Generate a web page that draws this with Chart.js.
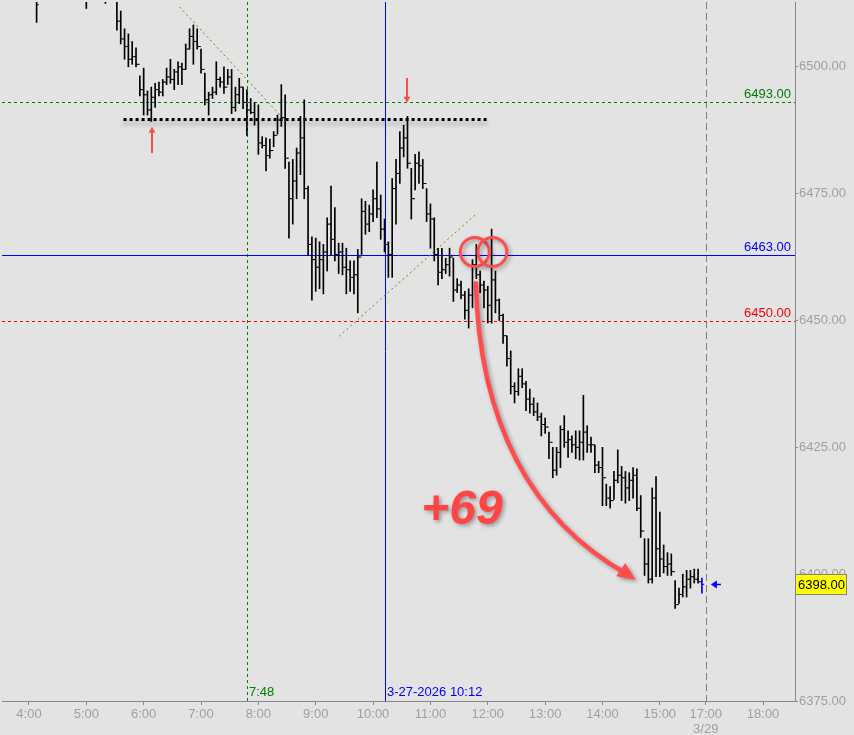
<!DOCTYPE html>
<html>
<head>
<meta charset="utf-8">
<script src="https://cdn.jsdelivr.net/npm/chart.js@4.4.1/dist/chart.umd.min.js"></script>
<style>
html, body { margin: 0; padding: 0; background: #e3e3e3; overflow: hidden; }
#wrap { position: relative; width: 854px; height: 735px; }
</style>
</head>
<body>
<div id="wrap"><canvas id="myChart"></canvas></div>
<script>
// 4 minute bars, session clock in minutes from midnight (4:00 = 240)
const sessionStart = 240;
const barMinutes = 4;

// null = bar sits above the visible price range
const highs = [
  null, null, 6516, null, null, null, null, null, null, null,
  null, null, null, null, null, 6516, null, null, null, null,
  6516, null, null, 6516, 6511, 6507.5, 6506.5, 6505, 6503.75, 6498.25,
  6499.75, 6495.25, 6496, 6496.75, 6497, 6497.5, 6499.75, 6501.5, 6499.5, 6501,
  6500.75, 6504.5, 6507.5, 6508.25, 6507.5, 6503.5, 6498.75, 6495, 6496, 6501,
  6498, 6500, 6499.5, 6499.5, 6496, 6497.75, 6496, 6495.5, 6493.75, 6493,
  6492.5, 6486.25, 6486, 6485.75, 6487.25, 6490.5, 6496.5, 6494.5, 6481.25, 6481.75,
  6484, 6490.25, 6493.5, 6476.5, 6466.5, 6466.25, 6465.5, 6465, 6470.25, 6476.5,
  6472.25, 6465.25, 6465.25, 6464.25, 6461.75, 6461.75, 6464, 6474, 6473.5, 6472.75,
  6475.75, 6481.25, 6474.75, 6470, 6465.5, 6478, 6481.75, 6487.25, 6488.5, 6490.25,
  6480, 6482.75, 6483.25, 6481.75, 6476, 6473, 6470.25, 6464.25, 6464.25, 6462.25,
  6464.25, 6462.25, 6458.25, 6457.75, 6455.75, 6456.25, 6462, 6465, 6459.75, 6457.75,
  6456.75, 6468, 6459.75, 6454.25, 6451.25, 6447, 6444, 6437.75, 6440.5, 6440.5,
  6438, 6436.5, 6434.75, 6433.75, 6431.75, 6430.75, 6428, 6425, 6425, 6429.25,
  6431.25, 6428.25, 6427.25, 6428.25, 6428.25, 6435.25, 6429.25, 6427, 6425.5, 6422.25,
  6425, 6417.75, 6417.25, 6420.25, 6424.5, 6421.25, 6420.25, 6420, 6421, 6420.75,
  6415.5, 6407, 6407, 6417, 6419.25, 6412.25, 6405.75, 6404.25, 6404, 6398.75,
  6397.25, 6400, 6400.75, 6400.75, 6401, 6401, 6399.25
];
const lows = [
  null, null, 6508.75, null, null, null, null, null, null, null,
  null, null, null, null, null, 6511.5, null, null, null, null,
  6512.5, null, null, 6507.25, 6504.5, 6501.5, 6500, 6500.5, 6500, 6494.25,
  6490.5, 6490.5, 6489.25, 6492, 6494.25, 6494.25, 6496.5, 6496.75, 6495.5, 6496.5,
  6496.5, 6499.5, 6503.5, 6500.5, 6503.5, 6498.75, 6492.5, 6490.5, 6493.75, 6494.5,
  6496, 6494.75, 6496.5, 6490.75, 6491.25, 6492.75, 6491.75, 6486.5, 6490.75, 6488.5,
  6482.75, 6484, 6479.5, 6482, 6484.25, 6486.75, 6488.25, 6480, 6466.25, 6469,
  6474, 6478.75, 6474, 6463, 6454, 6455.75, 6456.25, 6455.25, 6459.75, 6463,
  6461.75, 6459.25, 6459, 6455.25, 6455.75, 6455.25, 6451.5, 6463, 6467, 6467.5,
  6469.5, 6470.25, 6466, 6463.5, 6458.5, 6458.5, 6469, 6477, 6482.25, 6480,
  6470, 6475.75, 6477, 6476, 6469.5, 6464.25, 6461.75, 6457, 6458.25, 6459.25,
  6458.75, 6453.75, 6455.5, 6454.25, 6450.25, 6448.5, 6452.5, 6458.25, 6455.5, 6452.5,
  6449.5, 6449.5, 6451.5, 6450, 6445.5, 6441, 6435.5, 6433.75, 6435.25, 6436.75,
  6432.25, 6431.75, 6431.25, 6430.25, 6427.25, 6427.75, 6422.75, 6419, 6419.5, 6421,
  6425, 6423, 6424, 6422.75, 6422.5, 6422.5, 6424, 6424, 6420, 6420,
  6413.5, 6413.5, 6413, 6414.75, 6418, 6414.5, 6414, 6414.5, 6415, 6412.5,
  6407.25, 6399.75, 6398.25, 6398.25, 6399.5, 6399.5, 6400.25, 6399.75, 6399.75, 6393.25,
  6394.25, 6395.5, 6395.5, 6397.25, 6398.25, 6398.25, 6396.25
];
const closes = [
  null, null, 6512.25, null, null, null, null, null, null, null,
  null, null, null, null, null, 6513, null, null, null, null,
  6514, null, null, 6509, 6505.5, 6504, 6501.5, 6502, 6500.5, 6495.5,
  6494.5, 6491.5, 6494, 6495.5, 6495, 6497, 6498, 6497.5, 6499, 6500,
  6499.5, 6503.5, 6506, 6505, 6504, 6499.5, 6493.5, 6494.5, 6495, 6497.5,
  6497, 6496, 6498, 6492, 6494.5, 6496, 6493, 6491.5, 6491, 6489.5,
  6485, 6484.5, 6482.5, 6483.5, 6486.5, 6489.5, 6490, 6482, 6474, 6477.5,
  6483, 6486, 6476, 6465, 6462, 6460.5, 6462, 6463.5, 6469, 6466,
  6463, 6463.5, 6460.5, 6460, 6458.5, 6459, 6462.5, 6471.5, 6469, 6471,
  6474, 6472, 6468, 6465, 6463, 6476, 6479, 6484, 6486, 6481,
  6474, 6481, 6480.5, 6477, 6471, 6470, 6463, 6459.5, 6460, 6461,
  6462.5, 6456, 6457, 6455, 6452, 6455, 6461, 6459, 6457, 6456,
  6453, 6458, 6454, 6451, 6447, 6442.5, 6437, 6436, 6439, 6437.5,
  6434.5, 6433.5, 6432, 6431, 6429.5, 6429, 6426, 6420.5, 6424, 6428.5,
  6426, 6426.5, 6425.5, 6425, 6426, 6428, 6425.5, 6425.5, 6421.5, 6421,
  6419, 6415, 6414.5, 6418.5, 6419.5, 6419, 6417, 6418.5, 6419.5, 6413,
  6408.5, 6402, 6399, 6415, 6405, 6403, 6401.5, 6402, 6400.5, 6394,
  6396, 6397.5, 6399, 6399.5, 6399, 6398.5, 6398
];

// axis ticks (17:00 comes right after the session break)
const hourTicks = [240, 300, 360, 420, 480, 540, 600, 660, 720, 780, 840, 900, 948, 1008];
const hourLabels = ['4:00', '5:00', '6:00', '7:00', '8:00', '9:00', '10:00', '11:00',
  '12:00', '13:00', '14:00', '15:00', ['17:00', '3/29'], '18:00'];
const priceTicks = [6375, 6400, 6425, 6450, 6475, 6500];

// drawing tools on the chart
const lastPrice = 6398;
const levelLines = [
  { price: 6493, color: '#008000', dash: [3, 3] },
  { price: 6463, color: '#0000ff', dash: [] },
  { price: 6450, color: '#ff0000', dash: [3, 3] }
];
const timeLines = [
  { t: 468, label: '7:48', color: '#008000', dash: [3, 3] },
  { t: 612, label: '3-27-2026 10:12', color: '#0000ff', dash: [] }
];
const sessionBreak = 948;
const supportLine = { t0: 339, t1: 719, price: 6489.6 };
const trendLines = [
  [[397.6, 6511.8], [506, 6489.8]],
  [[564.5, 6446.9], [708.5, 6471.1]]
];
const redArrows = [
  { t: 369, from: 6483, to: 6488.2 },
  { t: 635.5, from: 6497.8, to: 6492.9 }
];
const circles = [[706.4, 6463.5], [724.8, 6463.5]];
const curve = [[707.5, 6457.7], [710.6, 6430.2], [764.9, 6410.6], [866, 6400]];
const gainText = { t: 693, price: 6412.5, text: '+69' };

const FONT = "'Liberation Sans', Arial, sans-serif";
const lastIdx = highs.length - 1;

const rangeData = [], closeTicks = [], openTicks = [], barColors = [], closeColors = [], openColors = [];
highs.forEach((h, i) => {
  if (h == null) return;
  const t = sessionStart + i * barMinutes;
  const col = i === lastIdx ? '#0000ff' : '#000000';
  rangeData.push({ x: t, y: [lows[i], h] });
  barColors.push(col);
  closeTicks.push({ x: t + 1.2, y: closes[i] });
  closeColors.push(col);
  if (i > 0 && closes[i - 1] != null) {
    openTicks.push({ x: t - 1.2, y: closes[i - 1] });
    openColors.push(col);
  }
});

const bgPlugin = {
  id: 'bg',
  beforeDraw(chart) {
    const c = chart.ctx;
    c.save();
    c.fillStyle = '#e3e3e3';
    c.fillRect(0, 0, chart.width, chart.height);
    c.restore();
  }
};

function head(c, x, y, ang, len, half) {
  const bx = x - len * Math.cos(ang), by = y - len * Math.sin(ang);
  c.beginPath();
  c.moveTo(x, y);
  c.lineTo(bx + half * Math.sin(ang), by - half * Math.cos(ang));
  c.lineTo(bx - half * Math.sin(ang), by + half * Math.cos(ang));
  c.closePath();
  c.fill();
}

const drawingsPlugin = {
  id: 'drawings',
  beforeDatasetsDraw(chart) {
    const c = chart.ctx, a = chart.chartArea;
    const X = v => chart.scales.x.getPixelForValue(v);
    const Y = v => chart.scales.y.getPixelForValue(v);
    c.save();
    c.beginPath(); c.rect(a.left, a.top, a.right - a.left, a.bottom - a.top); c.clip();
    c.lineWidth = 1;
    // session break
    c.strokeStyle = '#808080'; c.setLineDash([7, 4]);
    let sx = Math.round(X(sessionBreak)) + 0.5;
    c.beginPath(); c.moveTo(sx, a.top); c.lineTo(sx, a.bottom); c.stroke();
    timeLines.forEach(l => {
      const x = Math.round(X(l.t)) + 0.5;
      c.strokeStyle = l.color; c.setLineDash(l.dash);
      c.beginPath(); c.moveTo(x, a.top); c.lineTo(x, a.bottom); c.stroke();
    });
    levelLines.forEach(l => {
      const y = Math.round(Y(l.price)) + 0.5;
      c.strokeStyle = l.color; c.setLineDash(l.dash);
      c.beginPath(); c.moveTo(a.left, y); c.lineTo(a.right, y); c.stroke();
    });
    c.strokeStyle = '#808000'; c.setLineDash([2, 3]);
    trendLines.forEach(l => {
      c.beginPath(); c.moveTo(X(l[0][0]), Y(l[0][1])); c.lineTo(X(l[1][0]), Y(l[1][1])); c.stroke();
    });
    c.restore();
  },
  afterDatasetsDraw(chart) {
    const c = chart.ctx, a = chart.chartArea;
    const X = v => chart.scales.x.getPixelForValue(v);
    const Y = v => chart.scales.y.getPixelForValue(v);
    c.save();
    // dotted support line with its olive twin
    const sy = Y(supportLine.price);
    c.strokeStyle = '#9a9a00'; c.lineWidth = 1; c.setLineDash([3, 3]);
    c.beginPath(); c.moveTo(X(supportLine.t0), sy + 1); c.lineTo(X(supportLine.t0 + 185), sy + 1); c.stroke();
    c.shadowColor = 'rgba(0,0,0,0.35)'; c.shadowBlur = 4; c.shadowOffsetY = 4;
    c.strokeStyle = '#000'; c.lineWidth = 3; c.setLineDash([3, 3]);
    c.beginPath(); c.moveTo(X(supportLine.t0), sy); c.lineTo(X(supportLine.t1), sy); c.stroke();
    c.setLineDash([]);
    c.shadowColor = 'transparent';
    // small red arrows
    c.strokeStyle = '#ff4d4d'; c.fillStyle = '#ff4d4d'; c.lineWidth = 2;
    redArrows.forEach(r => {
      const x = Math.round(X(r.t)), y0 = Y(r.from), y1 = Y(r.to);
      const dir = y1 < y0 ? -1 : 1;
      c.beginPath(); c.moveTo(x, y0); c.lineTo(x, y1 - dir * 5); c.stroke();
      head(c, x, y1, dir < 0 ? -Math.PI / 2 : Math.PI / 2, 6, 3.5);
    });
    // circles, curve and text
    c.shadowColor = 'rgba(0,0,0,0.35)'; c.shadowBlur = 4; c.shadowOffsetX = 2; c.shadowOffsetY = 2;
    c.strokeStyle = '#ff4d4d'; c.lineWidth = 3;
    circles.forEach(p => { c.beginPath(); c.arc(X(p[0]), Y(p[1]), 14.5, 0, Math.PI * 2); c.stroke(); });
    const P = curve.map(p => [X(p[0]), Y(p[1])]);
    c.lineWidth = 4.5; c.lineCap = 'butt';
    c.beginPath(); c.moveTo(P[0][0], P[0][1]);
    c.bezierCurveTo(P[1][0], P[1][1], P[2][0], P[2][1], P[3][0], P[3][1]); c.stroke();
    const ang = Math.atan2(P[3][1] - P[2][1] + 12, P[3][0] - P[2][0]);
    c.fillStyle = '#ff4d4d';
    head(c, P[3][0] + 10 * Math.cos(ang), P[3][1] + 10 * Math.sin(ang), ang, 18, 8);
    c.font = 'bold italic 48px ' + FONT; c.textAlign = 'center'; c.textBaseline = 'middle';
    c.fillStyle = '#ff4545';
    c.fillText(gainText.text, X(gainText.t), Y(gainText.price));
    c.shadowColor = 'transparent';
    // labels of the lines
    c.font = '13px ' + FONT; c.textBaseline = 'alphabetic';
    c.textAlign = 'right';
    levelLines.forEach(l => {
      c.fillStyle = l.color;
      c.fillText(l.price.toFixed(2), a.right - 4, Math.round(Y(l.price)) - 4);
    });
    c.textAlign = 'left';
    timeLines.forEach(l => {
      c.fillStyle = l.color;
      c.fillText(l.label, Math.round(X(l.t)) + 2, a.bottom - 5);
    });
    // last price arrow
    const ly = Math.round(Y(lastPrice)) + 0.5, lx = X(sessionStart + lastIdx * barMinutes) + 9;
    c.strokeStyle = '#0000ff'; c.fillStyle = '#0000ff'; c.lineWidth = 1.5;
    c.beginPath(); c.moveTo(lx + 3, ly); c.lineTo(lx + 10, ly); c.stroke();
    head(c, lx, ly, Math.PI, 6, 4);
    c.restore();
  },
  afterDraw(chart) {
    const c = chart.ctx, a = chart.chartArea;
    const y = Math.round(chart.scales.y.getPixelForValue(lastPrice));
    c.save();
    c.fillStyle = '#ffff00';
    c.fillRect(a.right + 1, y - 9, 50, 19);
    c.strokeStyle = '#808080'; c.lineWidth = 1;
    c.strokeRect(a.right + 0.5, y - 9.5, 51, 20);
    c.fillStyle = '#000'; c.font = '13px ' + FONT;
    c.textBaseline = 'middle'; c.textAlign = 'left';
    c.fillText(lastPrice.toFixed(2), a.right + 3, y + 1);
    c.restore();
  }
};

const ctx = document.getElementById('myChart').getContext('2d');
const myChart = new Chart(ctx, {
  type: 'bar',
  data: {
    datasets: [{
      type: 'bar',
      data: rangeData,
      backgroundColor: barColors,
      borderWidth: 0,
      barThickness: 1
    }, {
      type: 'scatter',
      data: closeTicks,
      pointStyle: 'line',
      pointRadius: 1,
      pointHoverRadius: 1,
      pointBorderWidth: 1,
      pointBorderColor: closeColors
    }, {
      type: 'scatter',
      data: openTicks,
      pointStyle: 'line',
      pointRadius: 1,
      pointHoverRadius: 1,
      pointBorderWidth: 1,
      pointBorderColor: openColors
    }]
  },
  options: {
    responsive: true,
    maintainAspectRatio: false,
    animation: false,
    events: [],
    layout: { padding: 0 },
    plugins: { legend: { display: false }, tooltip: { enabled: false } },
    scales: {
      x: {
        type: 'linear',
        position: 'bottom',
        offset: false,
        min: 211.8,
        max: 1041.4,
        grid: { offset: false, drawOnChartArea: false, drawTicks: true, tickLength: 4, color: '#888' },
        border: { display: true, color: '#888', width: 1 },
        ticks: {
          autoSkip: false, maxRotation: 0, padding: 2, color: '#a0a0a0',
          font: { family: FONT, size: 13, lineHeight: 1.15 },
          callback: (v) => hourLabels[hourTicks.indexOf(v)]
        },
        afterBuildTicks: s => { s.ticks = hourTicks.map(v => ({ value: v })); },
        afterFit: s => { s.height = 34; s.paddingLeft = 0; s.paddingRight = 0; }
      },
      y: {
        type: 'linear',
        position: 'right',
        min: 6375,
        max: 6512.78,
        grid: { drawOnChartArea: false, drawTicks: true, tickLength: 3, color: '#888' },
        border: { display: true, color: '#888', width: 1 },
        ticks: {
          padding: 1, color: '#a0a0a0',
          font: { family: FONT, size: 13 },
          callback: v => Number(v).toFixed(2)
        },
        afterBuildTicks: s => { s.ticks = priceTicks.map(v => ({ value: v })); },
        afterFit: s => { s.width = 59; s.paddingTop = 0; s.paddingBottom = 0; }
      }
    }
  },
  plugins: [bgPlugin, drawingsPlugin]
});
</script>
</body>
</html>
